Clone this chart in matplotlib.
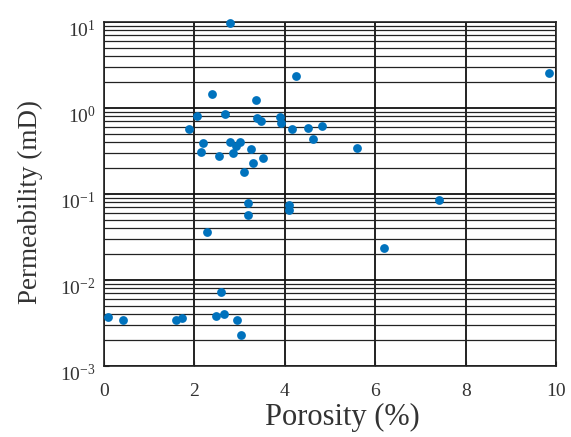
import numpy as np
import matplotlib
matplotlib.use('Agg')
import matplotlib.pyplot as plt
import matplotlib.transforms as mtransforms
from matplotlib.ticker import LogLocator, FixedLocator

# porosity (%) and permeability (mD)
porosity = [2.79, 2.40, 3.36, 2.68, 2.05, 3.89, 3.38, 3.47, 3.92, 1.88,
            4.15, 2.20, 2.79, 3.01, 2.93, 3.25, 2.15, 2.85, 2.55, 3.52,
            3.29, 3.10, 3.19, 3.19, 4.10, 4.10, 4.25, 9.85, 4.51, 4.82,
            4.62, 5.59, 7.40, 2.29, 2.58, 0.10, 0.43, 1.59, 1.72, 2.47,
            2.66, 2.94, 3.04, 6.19]
permeability = [9.7, 1.44, 1.24, 0.845, 0.81, 0.79, 0.76, 0.71, 0.66, 0.565,
                0.565, 0.395, 0.40, 0.40, 0.365, 0.333, 0.305, 0.297, 0.279, 0.264,
                0.227, 0.182, 0.079, 0.057, 0.0745, 0.065, 2.36, 2.53, 0.59, 0.61,
                0.43, 0.345, 0.085, 0.0359, 0.0073, 0.00374, 0.00342, 0.00342, 0.00358, 0.00385,
                0.0040, 0.00342, 0.00228, 0.0233]

xticks = [0, 2, 4, 6, 8, 10]

plt.rcParams['font.family'] = 'Liberation Serif'
plt.rcParams['mathtext.fontset'] = 'custom'
plt.rcParams['mathtext.rm'] = 'Liberation Serif'
plt.rcParams['mathtext.it'] = 'Liberation Serif'

fig = plt.figure(figsize=(5.71, 4.37), dpi=100)
ax = fig.add_axes([0.182, 0.1625, 0.792, 0.7875])

ax.scatter(porosity, permeability, s=40, color='#0072BD', zorder=3,
           linewidths=0, clip_on=False)

ax.set_yscale('log')
ax.set_xlim(0, 10)
ax.set_ylim(1e-3, 1e1)
ax.xaxis.set_major_locator(FixedLocator(xticks))
ax.yaxis.set_major_locator(LogLocator(base=10, numticks=10))
ax.yaxis.set_minor_locator(LogLocator(base=10, subs=np.arange(2, 10), numticks=20))

ax.grid(True, which='major', color='#111111', linewidth=1.3)
ax.grid(True, which='minor', axis='y', color='#222222', linewidth=0.9)
ax.tick_params(which='both', direction='in', labelsize=14, color='#222222')
ax.tick_params(axis='x', pad=12)
ax.tick_params(axis='y', pad=6)
ax.tick_params(which='minor', length=0)
for sp in ax.spines.values():
    sp.set_color('#222222')
    sp.set_linewidth(1.2)

# MATLAB-style exponent labels sit a little below their tick
shift = mtransforms.ScaledTranslation(0, -7 / 100, fig.dpi_scale_trans)
for lab in ax.get_yticklabels():
    lab.set_transform(lab.get_transform() + shift)

ax.set_xlabel('Porosity (%)', fontsize=22, color='#333333', va='center')
ax.set_ylabel('Permeability (mD)', fontsize=19.5, color='#333333', va='center', ha='center')
ax.xaxis.set_label_coords(0.527, -0.151)
ax.yaxis.set_label_coords(-0.1615, 0.477)
for lab in ax.get_xticklabels() + ax.get_yticklabels():
    lab.set_color('#333333')

fig.savefig('out.png', dpi=100)
